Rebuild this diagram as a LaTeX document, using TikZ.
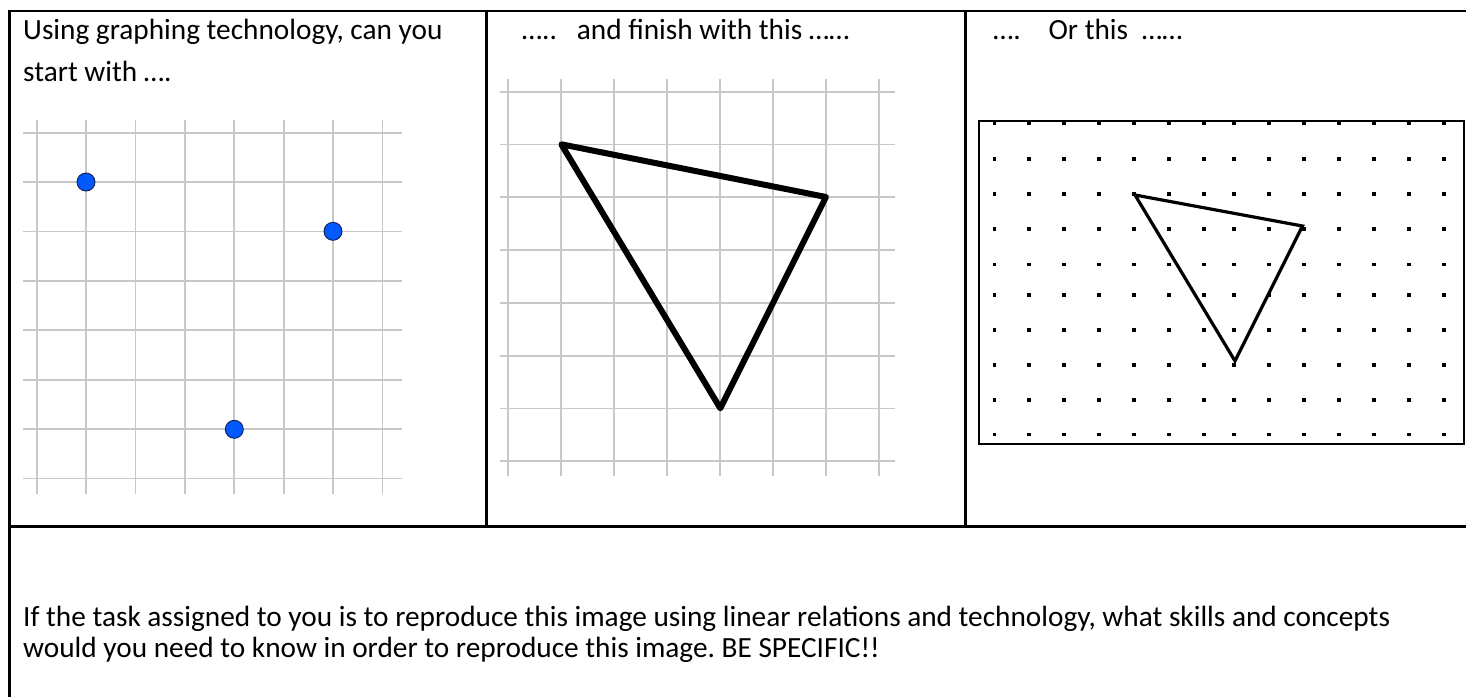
\documentclass[tikz,border=0pt]{standalone}
\usepackage{fontspec}
\setmainfont{Carlito}
\frenchspacing
\begin{document}
\begin{tikzpicture}[x=1pt,y=-1pt,
  tbl/.style={line width=2.2pt, draw=black},
  gridline/.style={line width=1.7pt, draw={rgb,255:red,200;green,200;blue,200}},
  txt/.style={anchor=base west, inner sep=0pt, font=\fontsize{29.3}{35}\selectfont},
  bdot/.style={circle, minimum size=18pt, inner sep=0pt, fill={rgb,255:red,0;green,90;blue,255}, draw={rgb,255:red,20;green,30;blue,80}, line width=0.9pt},
  thick tri/.style={line width=6pt, line join=round, draw=black},
  pix tri/.style={line width=3.2pt, line join=miter, draw=black},
  pixdot/.style={fill=black}
]
\useasboundingbox (0,0) rectangle (1466,697);

% ---------- table ----------
\draw[tbl] (1466,11) -- (9.5,11) -- (9.5,697);
\draw[tbl] (486.5,11) -- (486.5,526.5);
\draw[tbl] (965.5,11) -- (965.5,526.5);
\draw[tbl] (9.5,526.5) -- (1466,526.5);

% ---------- texts ----------
\node[txt] (t1a) at (23,39.3) {Using graphing technology, can you};
\node[txt] (t1b) at (23,81.7) {start with ….};
\node[txt] (t2a) at (521.7,39.3) {…..};
\node[txt] (t2b) at (576.7,39.3) {and finish with this ……};
\node[txt] (t3a) at (993,39.3) {….};
\node[txt] (t3b) at (1048.3,39.3) {Or this};
\node[txt] (t3c) at (1141.7,39.3) {……};
\node[txt] (b1) at (23,626.5) {If the task assigned to you is to reproduce this image using linear relations and technology, what skills and concepts};
\node[txt] (b2) at (23,657) {would you need to know in order to reproduce this image. BE SPECIFIC!!};

% ---------- panel 1 ----------
\foreach \k in {0,...,7}{
  \draw[gridline] ({36.7+49.4*\k},120) -- ({36.7+49.4*\k},494.3);
  \draw[gridline] (23,{132.7+49.4*\k}) -- (401.7,{132.7+49.4*\k});
}
\node[bdot] (p1) at (86,182) {};
\node[bdot] (p2) at (333,231.3) {};
\node[bdot] (p3) at (234.3,429.3) {};

% ---------- panel 2 ----------
\foreach \k in {0,...,7}{
  \draw[gridline] ({508.3+53*\k},79) -- ({508.3+53*\k},475.7);
  \draw[gridline] (500,{91.7+52.8*\k}) -- (895,{91.7+52.8*\k});
}
\coordinate (A) at (561.3,144.3);
\coordinate (B) at (826,197);
\coordinate (C) at (720.3,408.3);
\draw[thick tri] (A) -- (B) -- (C) -- cycle;

% ---------- panel 3 ----------
\draw[line width=2.5pt] (979,121) rectangle (1464,444);
\foreach \x in {994.3,1029,1064,1099,1134,1169,1203.7,1234,1269,1304,1339,1374,1409,1444}{
  \foreach \y in {122.7,158.7,193.7,228.7,264.5,294.7,329.7,364.7,399.7,434.3}{
    \fill[pixdot] ({\x-1.8},{\y-1.8}) rectangle ({\x+1.8},{\y+1.8});
  }
}
\coordinate (D) at (1135,195);
\coordinate (E) at (1302.5,226);
\coordinate (F) at (1235,361);
\draw[pix tri] (D) -- (E) -- (F) -- cycle;
\end{tikzpicture}
\end{document}
